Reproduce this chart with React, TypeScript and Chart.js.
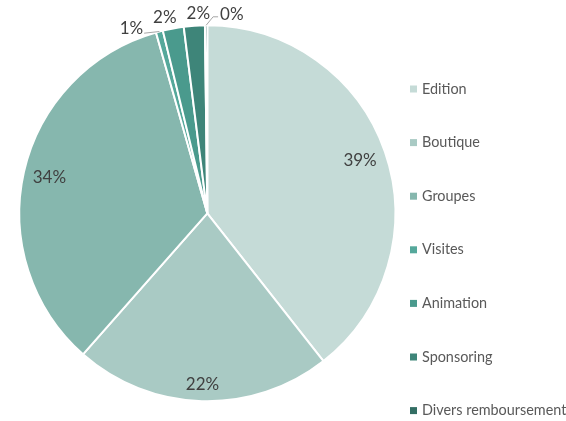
import React, { useEffect, useRef } from "react";
import { Chart, registerables } from "chart.js";

Chart.register(...registerables);

const categories = [
  "Edition",
  "Boutique",
  "Groupes",
  "Visites",
  "Animation",
  "Sponsoring",
  "Divers remboursement",
];
const shares = [39.4, 22.1, 34.1, 0.6, 1.8, 1.8, 0.2];
const sliceColors = [
  "#c5dbd7",
  "#a9cac4",
  "#86b7ae",
  "#55a89b",
  "#4a9a8d",
  "#3e8579",
  "#336e64",
];

const FONT = "Lato, 'Open Sans', sans-serif";

const pieLabels = {
  id: "pieLabels",
  afterDatasetsDraw(chart: any) {
    const ctx = chart.ctx as CanvasRenderingContext2D;
    const meta = chart.getDatasetMeta(0);
    const total = shares.reduce((a, b) => a + b, 0);
    ctx.save();
    ctx.font = `17px ${FONT}`;
    ctx.fillStyle = "#404040";
    ctx.textAlign = "center";
    ctx.textBaseline = "middle";
    const hh = 8;
    const outside: any[] = [];
    meta.data.forEach((arc: any, i: number) => {
      const { x, y, startAngle, endAngle, outerRadius } = arc.getProps(
        ["x", "y", "startAngle", "endAngle", "outerRadius"],
        true
      );
      const mid = (startAngle + endAngle) / 2;
      const frac = shares[i] / total;
      const text = Math.round(frac * 100) + "%";
      const w = ctx.measureText(text).width;
      if (frac > 0.05) {
        const ext = (w / 2) * Math.abs(Math.cos(mid)) + hh * Math.abs(Math.sin(mid));
        const rr = outerRadius - ext - 8;
        ctx.fillText(text, x + Math.cos(mid) * rr, y + Math.sin(mid) * rr);
      } else {
        const R = outerRadius + 13;
        const ax = x + Math.cos(mid) * R;
        outside.push({ text, w, ax, x: ax, mid, cx: x, cy: y, r: outerRadius, R });
      }
    });
    outside.sort((a, b) => a.ax - b.ax);
    const gap = 10;
    for (let it = 0; it < 300; it++) {
      for (let k = 0; k < outside.length - 1; k++) {
        const a = outside[k];
        const b = outside[k + 1];
        const need = (a.w + b.w) / 2 + gap;
        const d = b.x - a.x;
        if (d < need) {
          const s = (need - d) / 2;
          a.x -= s;
          b.x += s;
        }
      }
    }
    outside.forEach((l) => {
      const dx = l.x - l.cx;
      const ly = l.cy - Math.sqrt(Math.max(l.R * l.R - dx * dx, 0)) + 1;
      ctx.fillStyle = "#404040";
      ctx.fillText(l.text, l.x, ly);
      if (Math.abs(l.x - l.ax) > 12) {
        const rx = l.cx + Math.cos(l.mid) * l.r;
        const ry = l.cy + Math.sin(l.mid) * l.r;
        ctx.beginPath();
        ctx.strokeStyle = "#a6a6a6";
        ctx.lineWidth = 1;
        if (l.x < rx) {
          const sx = l.x + l.w / 2 + 1;
          const sy = ly + 5;
          ctx.moveTo(sx, sy);
          ctx.lineTo(rx, ry);
        } else {
          const sx = l.x - l.w / 2 - 2;
          const sy = ly + 2;
          ctx.moveTo(sx, sy);
          ctx.lineTo(sx - 5, sy);
          ctx.lineTo(rx, ry);
        }
        ctx.stroke();
      }
    });
    ctx.restore();
  },
};

const sideLegend = {
  id: "sideLegend",
  afterDraw(chart: any) {
    const ctx = chart.ctx as CanvasRenderingContext2D;
    ctx.save();
    ctx.font = `14.4px ${FONT}`;
    ctx.textAlign = "left";
    ctx.textBaseline = "middle";
    const startY = 89;
    const step = 53.6;
    categories.forEach((c, i) => {
      const y = startY + i * step;
      ctx.fillStyle = sliceColors[i];
      ctx.fillRect(410, y - 3.5, 7, 7);
      ctx.fillStyle = "#595959";
      ctx.fillText(c, 422, y);
    });
    ctx.restore();
  },
};

export default function App() {
  const ref = useRef<HTMLCanvasElement | null>(null);
  useEffect(() => {
    if (!ref.current) return;
    const chart = new Chart(ref.current, {
      type: "pie",
      data: {
        labels: categories,
        datasets: [
          {
            data: shares,
            backgroundColor: sliceColors,
            borderColor: "#ffffff",
            borderWidth: 2,
          },
        ],
      },
      options: {
        responsive: false,
        animation: false,
        events: [],
        layout: { padding: { left: 18.3, top: 24.3, right: 169.7, bottom: 18.7 } },
        plugins: {
          legend: { display: false },
          tooltip: { enabled: false },
        },
      },
      plugins: [pieLabels, sideLegend],
    });
    return () => chart.destroy();
  }, []);
  return (
    <div style={{ position: "absolute", left: 0, top: 0, width: 566, height: 421, background: "#fff" }}>
      <canvas ref={ref} width={566} height={421} />
    </div>
  );
}
